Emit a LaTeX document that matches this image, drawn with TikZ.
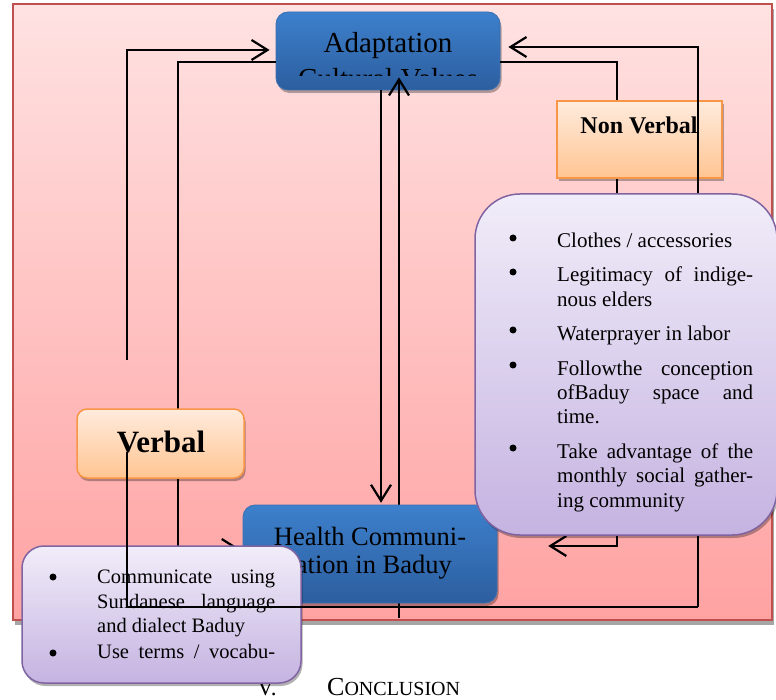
\documentclass[tikz,border=0pt]{standalone}
\usepackage{fontspec}
\setmainfont{Liberation Serif}
\usetikzlibrary{arrows.meta,shadows,calc}
\definecolor{bgtop}{HTML}{FFE2E2}
\definecolor{bgbot}{HTML}{FFA2A2}
\definecolor{bgborder}{HTML}{C0504D}
\definecolor{bluetop}{HTML}{3D80CC}
\definecolor{bluebot}{HTML}{2C5E9F}
\definecolor{blueborder}{HTML}{3A6FB0}
\definecolor{ortop}{HTML}{FFEBDD}
\definecolor{orbot}{HTML}{FFC592}
\definecolor{orborder}{HTML}{F79646}
\definecolor{putop}{HTML}{F1EDF9}
\definecolor{pubot}{HTML}{C5B3E1}
\definecolor{puborder}{HTML}{8064A2}
\begin{document}
\begin{tikzpicture}[x=1pt,y=-1pt,
  conn/.style={line width=2.2pt, draw=black},
  arr/.style={conn, -{Straight Barb[length=16pt,width=20pt]}},
  shad/.style={drop shadow={shadow xshift=1.5pt,shadow yshift=-3pt,fill=black,opacity=0.3}},
  bgbox/.style={rectangle, inner sep=0pt, draw=bgborder, line width=1.5pt, top color=bgtop, bottom color=bgbot,
     drop shadow={shadow xshift=2pt,shadow yshift=-5pt,fill=black,opacity=0.35}},
  bluebox/.style={rectangle, inner sep=0pt, rounded corners=12pt, draw=blueborder, line width=0.8pt, top color=bluetop, bottom color=bluebot, shad},
  orbox/.style={rectangle, inner sep=0pt, draw=orborder, line width=1.5pt, top color=ortop, bottom color=orbot, shad},
  pubox/.style={rectangle, inner sep=0pt, draw=puborder, line width=1.5pt, top color=putop, bottom color=pubot, shad},
  bigtxt/.style={anchor=base, inner sep=0pt, font=\fontsize{29}{34}\selectfont},
  hltxt/.style={anchor=base, inner sep=0pt, font=\fontsize{26.5}{31}\selectfont},
  rtxt/.style={anchor=base west, inner sep=0pt, font=\fontsize{21}{24}\selectfont},
  ltxt/.style={anchor=base west, inner sep=0pt, font=\fontsize{20.5}{24}\selectfont},
  bul/.style={fill=black}
]
\useasboundingbox (0,0) rectangle (776,700);
% background
\node[bgbox, minimum width=759pt, minimum height=616pt] (bg) at (392.5,312) {};
% Adaptation box
\node[bluebox, minimum width=224pt, minimum height=78pt] (adapt) at (388,51) {};
\begin{scope}
  \clip (276,12) rectangle (500,76);
  \node[bigtxt] (adapttxt) at (388,53) {Adaptation};
  \node[bigtxt] (adapttxt2) at (388,89) {Cultural Values};
\end{scope}
% node geometry for later
\node[minimum width=254pt, minimum height=98pt, inner sep=0pt] (healthpos) at (370,554) {};
\node[minimum width=165pt, minimum height=77pt, inner sep=0pt] (nonvpos) at (639.5,139.5) {};
\node[minimum width=167pt, minimum height=69pt, inner sep=0pt] (verbalpos) at (160.5,443.5) {};
\node[minimum width=302pt, minimum height=341pt, inner sep=0pt] (rboxpos) at (626,364.5) {};
% connectors under the boxes
\coordinate (c1) at (127,360);
\draw[arr] (c1) |- ($(adapt.west)+(-6,-1)$);
\draw[conn] ($(verbalpos.north)+(17.5,0)$) |- ($(adapt.west)+(0,11)$);
\draw[arr] ($(adapt.south)+(-7,0)$) -- ($(healthpos.north)+(11,-2)$);
\draw[arr] ($(healthpos.south)+(29,15)$) -- ($(adapt.south)+(11,-13)$);
\draw[conn] ($(adapt.east)+(0,11)$) -| ($(nonvpos.north)+(-22.5,0)$);
\draw[conn] ($(nonvpos.south)+(-22.5,0)$) -- ($(rboxpos.north)+(-9,6)$);
\draw[arr] ($(rboxpos.south)+(-9,-6)$) |- ($(healthpos.east)+(51,-8)$);
\draw[arr] ($(verbalpos.south)+(17.5,0)$) |- ($(healthpos.west)+(-3,-5)$);
% boxes
\node[bluebox, minimum width=254pt, minimum height=98pt] (health) at (370,554) {};
\node[hltxt] (healthtxt1) at (370,545) {Health Communi-};
\node[hltxt] (healthtxt2) at (368,573) {cation in Baduy};
\node[orbox, minimum width=165pt, minimum height=77pt] (nonv) at (639.5,139.5) {};
\node[anchor=base, inner sep=0pt, font=\bfseries\fontsize{24}{28}\selectfont] (nonvtxt) at (639,134) {Non Verbal};
\node[orbox, rounded corners=10pt, minimum width=167pt, minimum height=69pt] (verbal) at (160.5,443.5) {};
\node[anchor=base, inner sep=0pt, font=\bfseries\fontsize{31}{36}\selectfont] (verbaltxt) at (161,452) {Verbal};
% section heading
\node[anchor=base west, inner sep=0pt, font=\fontsize{23}{27}\selectfont] (secnum) at (257,695) {V.};
\node[anchor=base west, inner sep=0pt] (sectitle) at (327,695) {{\fontsize{26}{30}\selectfont C}{\fontsize{20}{24}\selectfont ONCLUSION}};
% left purple box
\node[pubox, rounded corners=22pt, minimum width=279pt, minimum height=137pt] (lbox) at (161.5,614.5) {};
\fill[bul] (53,577) circle (3.5);
\fill[bul] (53,653) circle (3.5);
\node[ltxt] (l1) at (97,583) {\makebox[178pt][s]{Communicate using}};
\node[ltxt] (l2) at (97,608) {\makebox[178pt][s]{Sundanese language}};
\node[ltxt] (l3) at (97,632) {and dialect Baduy};
\node[ltxt] (l4) at (97,658) {\makebox[178pt][s]{Use terms / vocabu-}};
% big loop connector
\coordinate (c5) at (127,452);
\coordinate (c6) at (698,607);
\draw[conn] (c5) |- (c6);
\draw[arr] (c6) |- ($(adapt.east)+(8,-4)$);
% right purple box
\node[pubox, rounded corners=45pt, minimum width=302pt, minimum height=341pt] (rbox) at (626,364.5) {};
\fill[bul] (513,238) circle (3.5);
\fill[bul] (513,272) circle (3.5);
\fill[bul] (513,330) circle (3.5);
\fill[bul] (513,365) circle (3.5);
\fill[bul] (513,448) circle (3.5);
\node[rtxt] (r1) at (557,248) {Clothes / accessories};
\node[rtxt] (r2) at (557,282) {\makebox[196pt][s]{Legitimacy of indige-}};
\node[rtxt] (r3) at (557,307) {nous elders};
\node[rtxt] (r4) at (557,341) {Waterprayer in labor};
\node[rtxt] (r5) at (557,375) {\makebox[196pt][s]{Followthe conception}};
\node[rtxt] (r6) at (557,399) {\makebox[196pt][s]{ofBaduy space and}};
\node[rtxt] (r7) at (557,423) {time.};
\node[rtxt] (r8) at (557,458) {\makebox[196pt][s]{Take advantage of the}};
\node[rtxt] (r9) at (557,482) {\makebox[196pt][s]{monthly social gather-}};
\node[rtxt] (r10) at (557,507) {ing community};
\end{tikzpicture}
\end{document}
